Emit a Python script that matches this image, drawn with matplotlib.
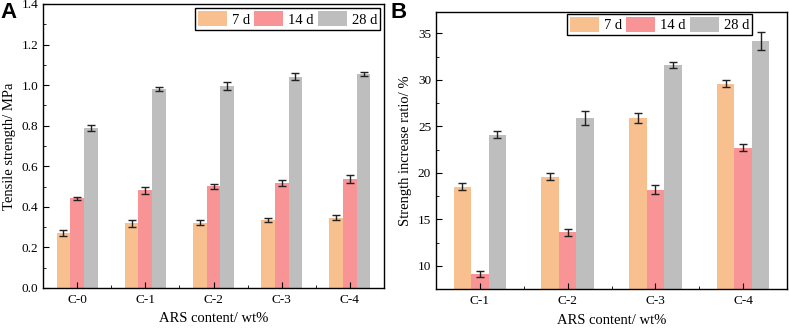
import numpy as np
import matplotlib
matplotlib.use("Agg")
import matplotlib.pyplot as plt

plt.rcParams["font.family"] = ["Liberation Serif", "DejaVu Serif"]
plt.rcParams["mathtext.fontset"] = "stix"

ages = ["7 d", "14 d", "28 d"]
colors = ["#F8BF8F", "#F89396", "#BEBEBE"]

# panel A: tensile strength (MPa)
cats_a = ["C-0", "C-1", "C-2", "C-3", "C-4"]
tens_7 = [0.272, 0.318, 0.322, 0.336, 0.347]
tens_7_err = [0.015, 0.016, 0.011, 0.010, 0.011]
tens_14 = [0.442, 0.481, 0.502, 0.518, 0.537]
tens_14_err = [0.009, 0.019, 0.012, 0.016, 0.018]
tens_28 = [0.788, 0.980, 0.996, 1.042, 1.055]
tens_28_err = [0.016, 0.010, 0.018, 0.017, 0.009]

# panel B: strength increase ratio (%)
cats_b = ["C-1", "C-2", "C-3", "C-4"]
ratio_7 = [18.5, 19.6, 25.9, 29.6]
ratio_7_err = [0.35, 0.4, 0.5, 0.4]
ratio_14 = [9.1, 13.6, 18.2, 22.7]
ratio_14_err = [0.3, 0.4, 0.5, 0.35]
ratio_28 = [24.1, 25.9, 31.6, 34.2]
ratio_28_err = [0.4, 0.8, 0.35, 1.0]


def grouped_bars(ax, cats, series, errs, ylim, yticks, yminor, ylabel, leg_anchor):
    x = np.arange(len(cats))
    w = 0.2
    for i, (vals, err) in enumerate(zip(series, errs)):
        ax.bar(x + (i - 1) * w, vals, w, color=colors[i], label=ages[i],
               yerr=err, capsize=3,
               error_kw=dict(ecolor="#222222", elinewidth=1.0, capthick=1.0))
    ax.set_xlim(-0.5, len(cats) - 0.5)
    ax.set_ylim(*ylim)
    ax.set_xticks(x)
    ax.set_xticklabels(cats)
    ax.set_xticks(np.arange(len(cats) - 1) + 0.5, minor=True)
    ax.set_yticks(yticks)
    ax.set_yticks(yminor, minor=True)
    ax.tick_params(which="both", direction="in", labelsize=9.5)
    ax.tick_params(which="major", length=4, width=0.8)
    ax.tick_params(which="minor", length=2.5, width=0.6)
    ax.tick_params(axis="x", pad=4)
    for s in ax.spines.values():
        s.set_linewidth(1.0)
    ax.set_xlabel("ARS content/ wt%", fontsize=10.5, labelpad=5)
    ax.set_ylabel(ylabel, fontsize=10.5, labelpad=4)
    ax.legend(loc="upper right", bbox_to_anchor=leg_anchor, ncol=3,
              fontsize=10.5, frameon=True,
              fancybox=False, edgecolor="black", framealpha=1,
              handlelength=2.0, handleheight=1.2, handletextpad=0.35,
              columnspacing=0.25, borderpad=0.2, borderaxespad=0.1)


fig = plt.figure(figsize=(7.89, 3.28), dpi=100)
ax_a = fig.add_axes([43 / 789, 40 / 328, 341 / 789, 284 / 328])
ax_b = fig.add_axes([436 / 789, 39 / 328, 351 / 789, 277 / 328])

grouped_bars(ax_a, cats_a, [tens_7, tens_14, tens_28],
             [tens_7_err, tens_14_err, tens_28_err],
             (0, 1.4), np.arange(0, 1.41, 0.2), np.arange(0.1, 1.4, 0.2),
             "Tensile strength/ MPa", (0.993, 0.99))
ax_a.yaxis.set_major_formatter(matplotlib.ticker.FormatStrFormatter("%.1f"))

grouped_bars(ax_b, cats_b, [ratio_7, ratio_14, ratio_28],
             [ratio_7_err, ratio_14_err, ratio_28_err],
             (7.5, 37.3), [10, 15, 20, 25, 30, 35], np.arange(12.5, 37.3, 5),
             "Strength increase ratio/ %", (0.905, 0.998))

fig.text(0.0, 0.995, "A", fontsize=16, fontweight="bold", va="top",
         family=["Liberation Sans", "DejaVu Sans"])
fig.text(390 / 789, 0.995, "B", fontsize=16, fontweight="bold", va="top",
         family=["Liberation Sans", "DejaVu Sans"])

fig.savefig("out.png", dpi=100)
